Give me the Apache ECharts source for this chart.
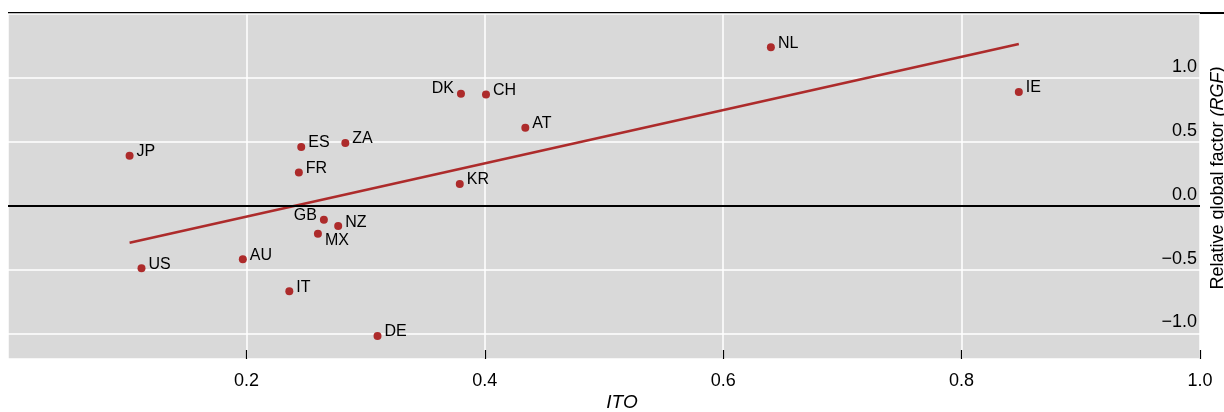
<!DOCTYPE html>
<html>
<head>
<meta charset="utf-8">
<script src="https://cdn.jsdelivr.net/npm/echarts@6/dist/echarts.min.js"></script>
<style>
  html, body { margin: 0; padding: 0; background: #fff; }
  #chart { width: 1224px; height: 412px; }
</style>
</head>
<body>
<div id="chart"></div>
<script>
// values
var countries = ['JP', 'US', 'ES', 'ZA', 'FR', 'GB', 'NZ', 'MX', 'AU', 'DK', 'CH', 'AT', 'KR', 'NL', 'IE', 'IT', 'DE'];
var itoValues = [0.102, 0.112, 0.246, 0.283, 0.244, 0.265, 0.277, 0.260, 0.197, 0.380, 0.401, 0.434, 0.379, 0.640, 0.848, 0.236, 0.310];
var rgfValues = [0.39, -0.49, 0.46, 0.49, 0.26, -0.11, -0.16, -0.22, -0.42, 0.875, 0.87, 0.61, 0.17, 1.24, 0.89, -0.67, -1.02];
// fitted line end points
var fitIto = [0.102, 0.848];
var fitRgf = [-0.29, 1.265];

var red = '#ad2b2b';
var font = 'Liberation Sans, Arial, sans-serif';

// where the country code sits next to its dot
var labelSide = { DK: ['left', -5], GB: ['left', -4], MX: ['right', 7] };

var points = countries.map(function (c, i) {
    var side = labelSide[c] || ['right', -4];
    return {
        name: c,
        value: [itoValues[i], rgfValues[i]],
        label: { position: side[0], offset: [0, side[1]] }
    };
});

var chart = echarts.init(document.getElementById('chart'));
chart.setOption({
    animation: false,
    backgroundColor: '#fff',
    grid: { left: 8, right: 24, top: 14, bottom: 53, show: true, backgroundColor: '#d9d9d9', borderWidth: 0 },
    xAxis: {
        type: 'value',
        min: 0,
        max: 1.0,
        interval: 0.2,
        axisLine: { show: false, onZero: false },
        axisTick: { show: true, inside: true, length: 9, lineStyle: { color: '#000', width: 1.2 } },
        axisLabel: {
            showMinLabel: false,
            margin: 13,
            fontSize: 18,
            fontFamily: font,
            color: '#000',
            formatter: function (v) { return v.toFixed(1); }
        },
        splitLine: { show: true, lineStyle: { color: '#fff', width: 1.5 } }
    },
    yAxis: {
        type: 'value',
        position: 'right',
        min: -1.2,
        max: 1.5,
        splitNumber: 5,
        axisLine: { show: false },
        axisTick: { show: false },
        axisLabel: {
            inside: true,
            margin: 3,
            showMinLabel: false,
            showMaxLabel: false,
            verticalAlign: 'bottom',
            padding: [0, 0, 2, 0],
            fontSize: 18,
            fontFamily: font,
            color: '#000',
            formatter: function (v) { return (v < 0 ? '\u2212' : '') + Math.abs(v).toFixed(1); }
        },
        splitLine: { show: true, lineStyle: { color: '#fff', width: 1.5 } }
    },
    graphic: [
        {
            type: 'line',
            shape: { x1: 8, y1: 13, x2: 1224, y2: 13 },
            style: { stroke: '#000', lineWidth: 2 }
        },
        {
            type: 'text',
            x: 622,
            y: 403,
            style: {
                text: 'ITO',
                font: 'italic 19px ' + font,
                fill: '#000',
                align: 'center',
                verticalAlign: 'middle'
            }
        },
        {
            type: 'text',
            x: 1209,
            y: 178,
            rotation: Math.PI / 2,
            style: {
                text: '{n|Relative global factor }{i|(RGF)}',
                rich: {
                    n: { fontSize: 18, fontFamily: font, fill: '#000' },
                    i: { fontSize: 18, fontFamily: font, fontStyle: 'italic', fill: '#000' }
                },
                align: 'center',
                verticalAlign: 'top'
            }
        }
    ],
    series: [
        {
            type: 'line',
            data: [[fitIto[0], fitRgf[0]], [fitIto[1], fitRgf[1]]],
            showSymbol: false,
            symbol: 'none',
            silent: true,
            lineStyle: { color: red, width: 2.6 },
            markLine: {
                silent: true,
                symbol: 'none',
                label: { show: false },
                lineStyle: { color: '#000', width: 2, type: 'solid', opacity: 1 },
                data: [{ yAxis: 0 }]
            },
            z: 3
        },
        {
            type: 'scatter',
            data: points,
            symbolSize: 8,
            itemStyle: { color: red, opacity: 1 },
            label: {
                show: true,
                distance: 3,
                fontSize: 16,
                fontFamily: font,
                color: '#000',
                formatter: '{b}'
            },
            z: 4
        }
    ]
});
</script>
</body>
</html>
